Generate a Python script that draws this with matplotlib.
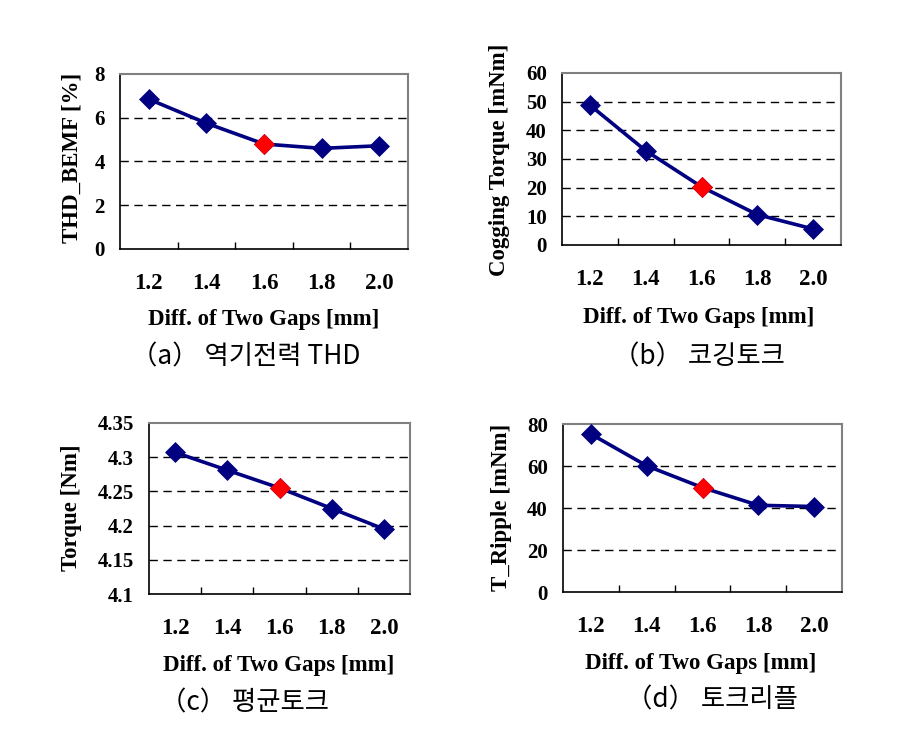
import matplotlib
matplotlib.use("Agg")
import matplotlib.pyplot as plt

# ---- data ----
gaps = ["1.2", "1.4", "1.6", "1.8", "2.0"]
thd_bemf = [6.85, 5.75, 4.8, 4.6, 4.72]
cogging = [48.8, 32.9, 20.3, 10.6, 5.6]
torque = [4.307, 4.281, 4.255, 4.225, 4.195]
t_ripple = [75.2, 60.1, 49.7, 41.3, 40.7]
highlight_idx = 2

ylabels = ["THD_BEMF [%]", "Cogging Torque [mNm]", "Torque [Nm]", "T_Ripple [mNm]"]
yticks = [[0, 2, 4, 6, 8],
          [0, 10, 20, 30, 40, 50, 60],
          [4.1, 4.15, 4.2, 4.25, 4.3, 4.35],
          [0, 20, 40, 60, 80]]
yticklabels = [["0", "2", "4", "6", "8"],
               ["0", "10", "20", "30", "40", "50", "60"],
               ["4.1", "4.15", "4.2", "4.25", "4.3", "4.35"],
               ["0", "20", "40", "60", "80"]]
xlabel = "Diff. of Two Gaps [mm]"
captions = ["（a） 역기전력 THD", "（b） 코깅토크", "（c） 평균토크", "（d） 토크리플"]
series = [thd_bemf, cogging, torque, t_ripple]

W, H = 914, 743
fig = plt.figure(figsize=(W / 100, H / 100), dpi=100)

# pixel boxes: left, right, top, bottom
boxes = [(120, 408, 74, 249), (562, 841, 73, 245), (149, 410, 423, 594), (563, 842, 424, 592)]
ylab_pos = [(72, 158), (500, 160), (71, 508), (502, 507)]
xlab_y = [320, 317, 665, 663]
xlab_x = [264, 699, 279, 701]
cap_pos = [(246, 357), (699, 357), (245, 703), (712, 700)]

serif = "Liberation Serif"
navy = "#000080"

for i in range(4):
    l, r, t, b = boxes[i]
    ax = fig.add_axes([l / W, 1 - b / H, (r - l) / W, (b - t) / H])
    x = list(range(len(gaps)))
    ax.plot(x, series[i], color=navy, lw=2.6, marker="D", ms=10.5,
            mfc=navy, mec=navy, mew=0.5, zorder=3)
    ax.plot([x[highlight_idx]], [series[i][highlight_idx]], ls="none", marker="D",
            ms=10.5, mfc="#FF0000", mec="#FF0000", mew=0.5, zorder=4)
    ax.set_xlim(-0.5, len(gaps) - 0.5)
    yt = yticks[i]
    ax.set_ylim(yt[0], yt[-1])
    for v in yt[1:-1]:
        ax.axhline(v, color="black", lw=1.0, ls=(0, (6, 4)), zorder=1)
    ax.set_yticks(yt)
    ax.set_yticklabels(yticklabels[i], fontfamily=serif, fontweight="bold", fontsize=15)
    ax.tick_params(axis="y", length=0, pad=11)
    ax.set_xticks([k + 0.5 for k in range(len(gaps) - 1)])
    ax.set_xticklabels([])
    ax.tick_params(axis="x", which="major", direction="in", length=5, width=1, color="black")
    ax.set_xticks(x, minor=True)
    ax.set_xticklabels(gaps, minor=True, fontfamily=serif, fontweight="bold", fontsize=16.5)
    ax.tick_params(axis="x", which="minor", length=0, pad=17)
    for s in ["left", "bottom"]:
        ax.spines[s].set_color("black")
        ax.spines[s].set_linewidth(1.2)
    for s in ["top", "right"]:
        ax.spines[s].set_color("#808080")
        ax.spines[s].set_linewidth(1.5)
    # axis labels
    ax.set_xlabel(xlabel, fontfamily=serif, fontweight="bold", fontsize=16.5)
    ax.xaxis.label.set_va("center")
    ax.xaxis.set_label_coords((xlab_x[i] - l) / (r - l), (b - xlab_y[i]) / (b - t))
    ax.set_ylabel(ylabels[i], fontfamily=serif, fontweight="bold", fontsize=16.5)
    ax.yaxis.label.set_va("center")
    px, py = ylab_pos[i]
    ax.yaxis.set_label_coords((px - l) / (r - l), (b - py) / (b - t))
    cx, cy = cap_pos[i]
    fig.text(cx / W, 1 - cy / H, captions[i], ha="center", va="center",
             fontfamily=["Noto Sans CJK KR", "DejaVu Sans"], fontweight="light", fontsize=19)

fig.savefig("out.png", dpi=100)
